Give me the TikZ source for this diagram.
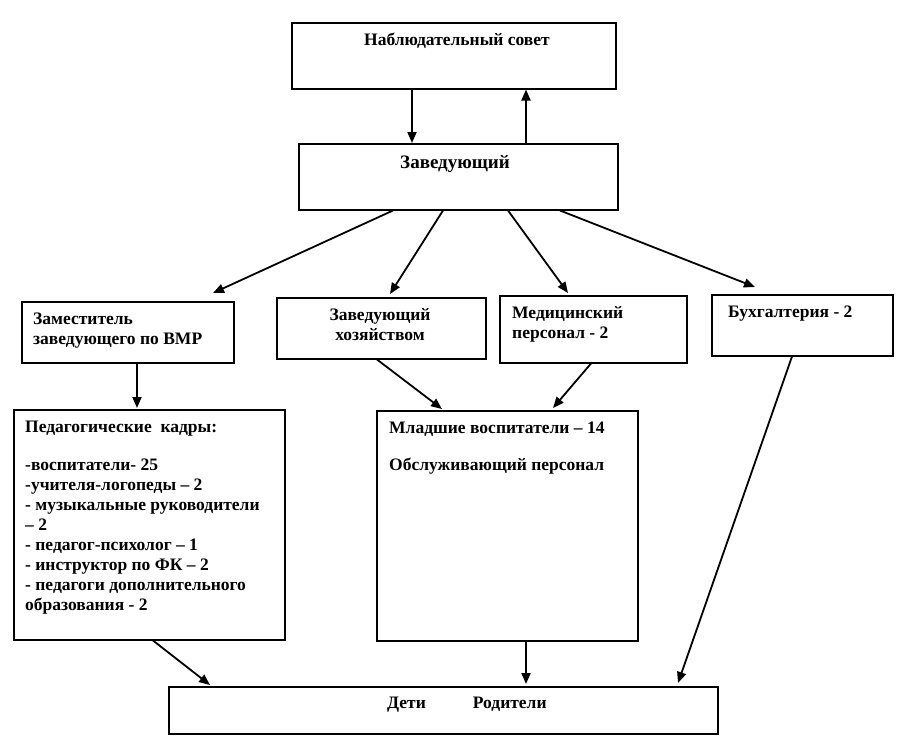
\documentclass[tikz,border=0pt]{standalone}
\usepackage{fontspec}
\setmainfont{Liberation Serif}
\usetikzlibrary{calc,arrows.meta}
\newcommand{\topstrut}{\rule{0pt}{15pt}}
\begin{document}
\begin{tikzpicture}[x=1pt,y=-1pt,
  box/.style={draw, line width=1.5pt, inner sep=0pt, anchor=north west},
  lbl/.style={inner sep=0pt, font=\fontsize{17.5}{20}\selectfont\bfseries, align=left},
  arr/.style={line width=1.8pt, -{Triangle[length=11pt,width=9pt]}}]
\useasboundingbox (0,0) rectangle (908,750);
% boxes
\node[box, minimum width=324pt, minimum height=66pt] (nab) at (291,22) {};
\node[box, minimum width=319pt, minimum height=66pt] (zav) at (298,143) {};
\node[box, minimum width=212pt, minimum height=61pt] (zam) at (21,301) {};
\node[box, minimum width=209pt, minimum height=61pt] (hoz) at (276,297) {};
\node[box, minimum width=187pt, minimum height=67pt] (med) at (499,295) {};
\node[box, minimum width=181pt, minimum height=61pt] (bux) at (711,294) {};
\node[box, minimum width=271pt, minimum height=230pt] (ped) at (13,409) {};
\node[box, minimum width=261pt, minimum height=230pt] (mla) at (376,410) {};
\node[box, minimum width=549pt, minimum height=47pt] (det) at (168,686) {};
% labels
\node[lbl, anchor=base] (tnab) at ($(nab.north west)+(166,23)$) {Наблюдательный совет};
\node[lbl, anchor=base, font=\fontsize{19}{22}\selectfont\bfseries] (tzav) at ($(zav.north west)+(157,25)$) {Заведующий};
\node[lbl, anchor=north west] (tzam) at ($(zam.north west)+(12,8)$) {\topstrut Заместитель\\заведующего по ВМР};
\node[lbl, anchor=north, align=center] (thoz) at ($(hoz.north west)+(104,8)$) {\topstrut Заведующий\\хозяйством};
\node[lbl, anchor=north west] (tmed) at ($(med.north west)+(13,8)$) {\topstrut Медицинский\\персонал - 2};
\node[lbl, anchor=base west] (tbux) at ($(bux.north west)+(17,23)$) {Бухгалтерия - 2};
\node[lbl, anchor=north west] (tped) at ($(ped.north west)+(12,8)$) {\topstrut Педагогические\ \ кадры:\\[18pt]-воспитатели- 25\\-учителя-логопеды – 2\\- музыкальные руководители\\– 2\\- педагог-психолог – 1\\- инструктор по ФК – 2\\- педагоги дополнительного\\образования - 2};
\node[lbl, anchor=north west] (tmla) at ($(mla.north west)+(13,8)$) {\topstrut Младшие воспитатели – 14\\[17pt]Обслуживающий персонал};
\node[lbl, anchor=base west] (tdet) at ($(det.north west)+(219,22)$) {Дети\hspace{47pt}Родители};
% arrows
\draw[arr] ($(nab.south west)+(121,0)$) -- ($(zav.north west)+(114,0)$);
\draw[arr] ($(zav.north west)+(228,0)$) -- ($(nab.south west)+(235,0)$);
\draw[arr] ($(zav.south west)+(95,0)$) -- ($(zam.north west)+(192,-8)$);
\draw[arr] ($(zav.south west)+(145,0)$) -- ($(hoz.north west)+(114,-3)$);
\draw[arr] ($(zav.south west)+(210,0)$) -- ($(med.north west)+(69,-2)$);
\draw[arr] ($(zav.south west)+(262,0)$) -- ($(bux.north west)+(44,-7)$);
\draw[arr] ($(zam.south west)+(116,0)$) -- ($(ped.north west)+(124,-1)$);
\draw[arr] ($(hoz.south west)+(101,0)$) -- ($(mla.north west)+(66,-1)$);
\draw[arr] ($(med.south west)+(92,0)$) -- ($(mla.north west)+(177,-2)$);
\draw[arr] ($(ped.south west)+(140,0)$) -- ($(det.north west)+(42,-1)$);
\draw[arr] ($(mla.south west)+(150,0)$) -- ($(det.north west)+(358,-2)$);
\draw[arr] ($(bux.south west)+(81,0)$) -- ($(det.north west)+(510,-3)$);
\end{tikzpicture}
\end{document}
